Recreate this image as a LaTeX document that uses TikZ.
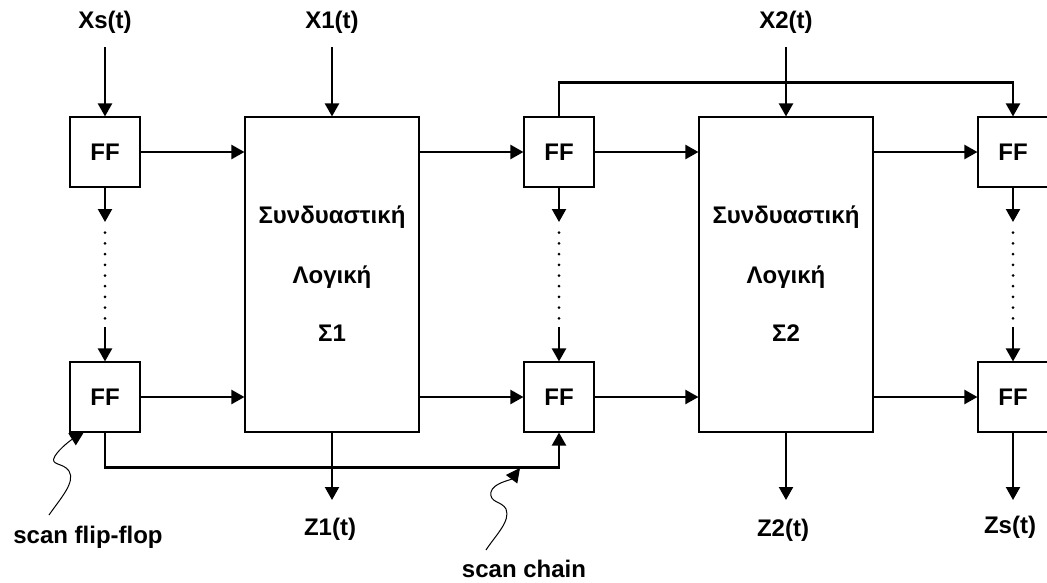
\documentclass[tikz,border=0pt]{standalone}
\usepackage{fontspec}
\setmainfont{Liberation Sans}
\usetikzlibrary{arrows.meta}
\begin{document}
\begin{tikzpicture}[x=1pt,y=-1pt,
  font=\fontsize{24}{28}\selectfont\bfseries,
  ffbox/.style={draw,line width=1.1pt,minimum width=70pt,minimum height=70pt,inner sep=0pt},
  logic/.style={draw,line width=1.1pt,minimum width=174pt,minimum height=315pt,inner sep=0pt},
  lbl/.style={inner sep=0pt},
  tip/.style={-{Triangle[length=13pt,width=14pt]}},
  conn/.style={line width=2.2pt,tip},
  dotline/.style={line width=3pt,line cap=round,dash pattern=on 0pt off 10.7pt},
  note/.style={line width=1pt,-{Triangle[length=14pt,width=14pt]}}
]
\useasboundingbox (0,0) rectangle (1047,582);

% flip-flops
\node[ffbox] (f11) at (105,152) {FF};
\node[ffbox] (f12) at (105,397) {FF};
\node[ffbox] (f21) at (559,152) {FF};
\node[ffbox] (f22) at (559,397) {FF};
\node[ffbox] (f31) at (1013,152) {FF};
\node[ffbox] (f32) at (1013,397) {FF};

% combinational logic
\node[logic] (s1) at (332,274.5) {};
\node[logic] (s2) at (786,274.5) {};
\node[lbl] (s1a) at (332,217) {Συνδυαστική};
\node[lbl] (s1b) at (332,277) {Λογική};
\node[lbl] (s1c) at (332,333) {Σ1};
\node[lbl] (s2a) at (786,217) {Συνδυαστική};
\node[lbl] (s2b) at (786,277) {Λογική};
\node[lbl] (s2c) at (786,333) {Σ2};

% input labels
\node[lbl] (xs) at (105,22) {Xs(t)};
\node[lbl] (x1) at (332,22) {X1(t)};
\node[lbl] (x2) at (786,22) {X2(t)};
\coordinate (xsin) at (105,47);
\coordinate (x1in) at (332,47);
\coordinate (x2in) at (786,47);
\draw[conn] (xsin) -- (f11.north);
\draw[conn] (x1in) -- (s1.north);
\draw[conn] (x2in) -- (s2.north);

% output labels
\node[lbl] (z1) at (330,529) {Z1(t)};
\node[lbl] (z2) at (783,530) {Z2(t)};
\node[lbl] (zs) at (1010,527) {Zs(t)};
\coordinate (z1out) at (332,500);
\coordinate (z2out) at (786,500);
\coordinate (zsout) at (1013,500);
\draw[conn] (s1.south) -- (z1out);
\draw[conn] (s2.south) -- (z2out);
\draw[conn] (f32.south) -- (zsout);

% data paths
\draw[conn] (f11.east) -- (f11.east -| s1.west);
\draw[conn] (f12.east) -- (f12.east -| s1.west);
\draw[conn] (s1.east |- f21.west) -- (f21.west);
\draw[conn] (s1.east |- f22.west) -- (f22.west);
\draw[conn] (f21.east) -- (f21.east -| s2.west);
\draw[conn] (f22.east) -- (f22.east -| s2.west);
\draw[conn] (s2.east |- f31.west) -- (f31.west);
\draw[conn] (s2.east |- f32.west) -- (f32.west);

% dotted scan segments
\foreach \c in {1,2,3}{
  \coordinate (d\c a) at (f\c1.south |- 0,222);
  \coordinate (d\c b) at (f\c1.south |- 0,327);
  \draw[conn] (f\c1.south) -- (d\c a);
  \draw[dotline] ([yshift=-10.7pt]d\c a) -- ([yshift=5pt]d\c b);
  \draw[conn] (d\c b) -- (f\c2.north);
}

% scan chain
\draw[conn] (f12.south) -- ++(0,35) -| (f22.south);
\draw[conn] (f21.north) -- ++(0,-34) -| (f31.north);

% annotations
\node[lbl] (sff) at (88,537) {scan flip-flop};
\node[lbl] (sch) at (524,569) {scan chain};
\coordinate (sffs) at (49,515);
\coordinate (sfft) at (84,432);
\coordinate (schs) at (486,550);
\coordinate (scht) at (520,468);
\draw[note] (sffs) .. controls (60,499) and (76,482) .. (69,471)
  .. controls (63,462) and (49,466) .. (55,456)
  .. controls (60,448) and (71,440) .. (sfft);
\draw[note] (schs) .. controls (495,536) and (511,521) .. (506,509)
  .. controls (502,501) and (489,503) .. (491,492)
  .. controls (493,483) and (511,480) .. (scht);
\end{tikzpicture}
\end{document}
